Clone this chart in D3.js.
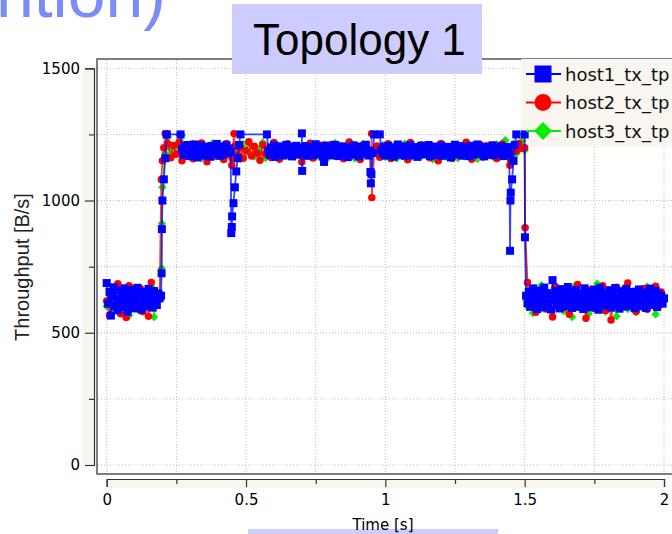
<!DOCTYPE html>
<html>
<head>
<meta charset="utf-8">
<script src="https://cdn.jsdelivr.net/npm/d3@7"></script>
<style>
  body { margin: 0; background: #fff; }
  svg { display: block; }
</style>
</head>
<body>
<script>
// =================== Data ======================
// host1 sampled every 5 ms, host2 / host3 every 10 ms (null = no sample)
const host1Step = 0.005;
const host1Values = [
  // 0 .. 0.195
  688,610,655,565,640,672,600,628,585,660,615,645,598,668,620,580,650,607,638,662,
  592,625,670,603,645,588,655,617,632,600,666,612,642,595,658,622,605,648,630,640,
  // 0.2 .. 0.265 ramp + flat top
  1000,1080,1160,1250,null,null,null,null,null,null,null,null,null,1250,
  // 0.27 .. 0.445
  1195,1172,1205,1180,1210,1168,1192,1200,1175,1212,1185,1163,1198,1178,1208,1190,1170,1203,1183,1196,
  1166,1206,1188,1176,1199,1214,1181,1169,1193,1204,1174,1187,1209,1179,1197,1184,
  // 0.45 .. 0.575 ramp + flat top
  940,990,1050,1110,1160,1210,1250,null,null,null,null,null,null,null,null,null,null,null,null,null,
  null,null,null,null,null,1250,
  // 0.58 .. 0.945
  1188,1172,1201,1180,1209,1165,1194,1183,1205,1176,1198,1170,1190,1211,1178,1186,1203,1167,1195,1181,
  1207,1174,1192,1185,1200,1199,1177,1206,1169,1189,1202,1180,1171,1196,1213,1184,1175,1191,1204,1166,
  1146,1193,1208,1179,1187,1171,1200,1183,1210,1173,1195,1168,1188,1205,1177,1197,1182,1164,1201,1186,
  1174,1209,1190,1179,1199,1167,1204,1185,1176,1193,1211,1181,1170,1188,
  // 0.95 .. 0.98
  1100,1180,1250,null,null,null,1250,
  // 0.985 .. 1.445
  1192,1178,1203,1170,1186,1207,1175,1196,1183,1166,1200,1189,1212,1173,1194,1180,1205,1169,1187,
  1198,1176,1209,1184,1171,1202,1190,1165,1195,1179,1206,1186,1174,1200,1182,1210,1168,1193,1177,1204,
  1187,1172,1199,1181,1208,1169,1192,1185,1175,1203,1190,1163,1197,1180,1211,1174,1194,1183,1206,1170,
  1189,1201,1177,1195,1168,1207,1184,1173,1198,1188,1212,1176,1192,1181,1203,1167,1196,1185,1174,1200,
  1182,1209,1171,1193,1186,1199,1175,1205,1188,1168,1197,1180,1202,1176,
  // 1.45 .. 1.5
  1030,1080,1150,1210,1250,null,null,null,null,null,1250,
  // 1.505 .. 2.0
  640,612,655,598,632,668,605,645,590,660,620,637,596,671,610,650,602,642,588,699,
  625,658,604,636,592,665,617,647,600,630,673,609,652,594,640,622,662,598,635,614,
  648,590,668,607,633,655,596,640,619,663,601,645,587,670,626,611,652,603,638,616,
  661,595,643,624,669,606,632,591,657,620,647,599,666,613,638,602,654,626,593,645,
  618,664,600,637,609,652,594,641,628,667,605,633,615,659,597,646,621,640,610,630
];
const host1Extra = [[0.197,725],[0.198,892],[0.447,877],[0.449,900],[0.7005,1254],[0.7015,1112],
  [0.9465,1108],[0.948,1065],[1.4475,810],[1.449,1000],[1.501,861]];

const host2Step = 0.01;
const host2Values = [
  620,565,660,598,685,572,640,558,678,610,632,595,668,580,650,562,690,605,625,648,
  1150,1253,
  1215,1162,1208,1175,1220,1150,1198,1183,1212,1158,1195,1170,1218,1186,1147,1204,1165,1210,1178,1193,
  1155,1216,1182,
  1160,1205,
  1172,1200,1160,1188,1222,1168,1205,1180,1152,1211,1176,1196,1163,1219,1185,1157,1202,1171,1214,1190,
  1166,1207,1182,1146,1199,1174,1217,1161,1192,1184,1209,1153,1196,1178,1213,1167,1190,1204,1158,1186,
  1221,1170,1197,1181,1155,1210,1175,1193,
  1190,
  1183,1206,1164,1198,1177,1215,1159,1192,1186,1208,1170,1201,1154,1219,1180,1195,1167,1211,1175,1189,
  1162,1204,1182,1150,1216,1173,1197,1185,1160,1209,1178,1193,1168,1220,1184,1156,1202,1176,1212,1165,
  1190,1207,1171,1198,1159,1183,1214,1174,1196,1152,1205,1187,1216,1197,
  1200,
  690,605,652,578,640,622,668,590,633,560,675,612,645,595,660,570,638,618,683,600,
  648,555,629,665,592,642,608,678,584,650,548,625,672,597,636,615,688,603,657,580,
  644,620,667,589,632,610,676,598,654,628
];
const host2Extra = [[0.196,1080],[0.205,1200],[0.2175,1253],[0.449,1133],[0.457,1253],
  [0.9505,1253],[0.9515,1011],[1.447,1133],[1.5015,897]];

const host3Step = 0.01;
const host3Values = [
  600,645,575,668,615,590,655,630,565,670,608,640,582,660,620,598,675,560,635,650,
  1050,1180,
  1240,1195,1170,1210,1250,1248,1185,1205,1165,1215,1178,1192,1160,1208,1188,1174,1217,1182,1199,1163,
  1211,1176,1194,
  1185,1170,1203,1158,1214,1190,1177,1206,1166,1198,1183,1219,1161,1195,1172,1209,1187,1155,1201,1179,
  1213,1168,1192,1184,1207,1162,1197,1175,1216,1189,1164,1204,1180,1211,1157,1193,1171,1218,1186,1200,
  1167,1209,1178,1195,1160,1206,1182,1214,1173,1191,
  1188,1190,1199,1172,1210,1165,1194,1181,1207,1159,1196,1176,1215,1185,1163,1202,1178,1211,1169,1190,
  1183,1205,1156,1198,1174,1213,1187,1166,1201,1180,1209,1161,1193,1177,1217,1184,1170,1204,1158,1196,
  1189,1208,1173,1199,1164,1212,1181,1195,1228,1205,1186,1215,1178,1201,1225,
  1190,
  598,662,575,640,615,680,590,652,628,565,670,605,645,582,658,620,560,676,610,638,
  593,665,572,648,624,685,600,655,580,640,618,668,562,634,605,672,590,650,615,578,
  660,628,595,674,608,642,570,656,620,636
];
const host3Extra = [[0.197,744],[0.198,913],[1.5015,900]];

const seriesNames = ["host1_tx_tp", "host2_tx_tp", "host3_tx_tp"];
const seriesColors = ["#0000ff", "#ff0000", "#00ee00"];
const yMajorTicks = [0, 500, 1000, 1500];
const yMinorTicks = [250, 750, 1250];
const xMajorTicks = [0, 0.5, 1, 1.5, 2];
const xMinorTicks = [0.25, 0.75, 1.25, 1.75];

function buildSeries(values, step, extra) {
  return values.map((v, i) => [i * step, v])
    .filter(d => d[1] !== null)
    .concat(extra)
    .sort((a, b) => a[0] - b[0]);
}
const host1 = buildSeries(host1Values, host1Step, host1Extra);
const host2 = buildSeries(host2Values, host2Step, host2Extra);
const host3 = buildSeries(host3Values, host3Step, host3Extra);

// =================== Chart ======================
const W = 672, H = 534;
const frame = {left: 97, top: 59, right: 700, bottom: 474};
const beige = "#f8f6ef";

const svg = d3.select("body").append("svg")
    .attr("width", W)
    .attr("height", H);

const x = d3.scaleLinear().domain([0, 2]).range([106.7, 664]);
const y = d3.scaleLinear().domain([0, 1500]).range([465, 68.3]);

// plot frame
svg.append("rect")
    .attr("x", frame.left).attr("y", frame.top)
    .attr("width", frame.right - frame.left).attr("height", frame.bottom - frame.top)
    .attr("fill", "#fff")
    .attr("stroke", "#555").attr("stroke-width", 1.5);

// dotted grid
const grid = svg.append("g")
    .attr("stroke", "#bdbdbd").attr("stroke-width", 1).attr("stroke-dasharray", "1,2");
grid.selectAll(".gy").data(yMajorTicks.concat(yMinorTicks)).join("line")
    .attr("x1", frame.left + 1).attr("x2", W)
    .attr("y1", d => y(d)).attr("y2", d => y(d));
grid.selectAll(".gx").data(xMajorTicks.concat(xMinorTicks)).join("line")
    .attr("y1", frame.top + 1).attr("y2", frame.bottom - 1)
    .attr("x1", d => x(d)).attr("x2", d => x(d));

// y axis strip + axis
svg.append("rect")
    .attr("x", 82).attr("y", y(1500))
    .attr("width", 12).attr("height", y(0) - y(1500))
    .attr("fill", beige);

svg.append("g")
    .attr("transform", "translate(94,0)")
    .call(d3.axisLeft(y).tickValues(yMajorTicks).tickSize(9).tickSizeOuter(9).tickPadding(5)
      .tickFormat(d => String(d)));
svg.append("g")
    .attr("transform", "translate(94,0)")
    .call(d3.axisLeft(y).tickValues(yMinorTicks).tickSize(5).tickFormat(""))
    .call(g => g.select(".domain").remove());

// x axis strip + axis
svg.append("rect")
    .attr("x", x(0)).attr("y", 479)
    .attr("width", x(2) - x(0)).attr("height", 9)
    .attr("fill", beige);

svg.append("g")
    .attr("transform", "translate(0,479)")
    .call(d3.axisBottom(x).tickValues(xMajorTicks).tickSize(8).tickSizeOuter(8).tickPadding(7)
      .tickFormat(d => String(d)));
svg.append("g")
    .attr("transform", "translate(0,479)")
    .call(d3.axisBottom(x).tickValues(xMinorTicks).tickSize(5).tickFormat(""))
    .call(g => g.select(".domain").remove());

svg.selectAll(".tick line, .domain").attr("stroke", "#333").attr("stroke-width", 1.2);
svg.selectAll(".tick text")
    .attr("fill", "#000")
    .style("font-family", "'DejaVu Sans', sans-serif")
    .style("font-size", "15px");

// y label
svg.append("text")
    .attr("transform", "translate(22,267) rotate(-90)")
    .attr("text-anchor", "middle")
    .attr("dominant-baseline", "central")
    .style("font-family", "'Liberation Sans', Arial, sans-serif")
    .style("font-size", "20px")
    .attr("fill", "#222")
    .text("Throughput [B/s]");

// legend background
svg.append("rect")
    .attr("x", 521).attr("y", frame.top)
    .attr("width", 160).attr("height", 88)
    .attr("fill", beige);

// series (host3 at the back, host1 on top)
svg.append("clipPath").attr("id", "plotClip")
  .append("rect")
    .attr("x", frame.left + 1).attr("y", frame.top + 1)
    .attr("width", W - frame.left).attr("height", frame.bottom - frame.top - 2);

const line = d3.line().x(d => x(d[0])).y(d => y(d[1]));
const markers = [
  {data: host3, color: seriesColors[2], sym: d3.symbol(d3.symbolSquare, 36)(), rot: 45},
  {data: host2, color: seriesColors[1], sym: d3.symbol(d3.symbolCircle, 44)(), rot: 0},
  {data: host1, color: seriesColors[0], sym: d3.symbol(d3.symbolSquare, 64)(), rot: 0}
];
const dataLayer = svg.append("g").attr("clip-path", "url(#plotClip)");
markers.forEach(s => {
  const g = dataLayer.append("g");
  g.append("path")
      .datum(s.data)
      .attr("d", line)
      .attr("fill", "none")
      .attr("stroke", s.color)
      .attr("stroke-opacity", 0.75)
      .attr("stroke-width", 1.8);
  g.selectAll("path.m").data(s.data).join("path")
      .attr("class", "m")
      .attr("d", s.sym)
      .attr("fill", s.color)
      .attr("transform", d => `translate(${x(d[0])},${y(d[1])}) rotate(${s.rot})`);
});

// legend items
const legendRows = [74, 102.5, 131];
const legendSyms = [
  {sym: d3.symbol(d3.symbolSquare, 289)(), rot: 0},
  {sym: d3.symbol(d3.symbolCircle, 227)(), rot: 0},
  {sym: d3.symbol(d3.symbolSquare, 160)(), rot: 45}
];
seriesNames.forEach((name, i) => {
  const g = svg.append("g").attr("transform", `translate(0,${legendRows[i]})`);
  g.append("line")
      .attr("x1", 526).attr("x2", 561)
      .attr("stroke", seriesColors[i]).attr("stroke-width", 2);
  g.append("path")
      .attr("d", legendSyms[i].sym)
      .attr("fill", seriesColors[i])
      .attr("transform", `translate(543,0) rotate(${legendSyms[i].rot})`);
  g.append("text")
      .attr("x", 565)
      .attr("dominant-baseline", "central")
      .style("font-family", "'DejaVu Sans', sans-serif")
      .style("font-size", "18px")
      .attr("fill", "#111")
      .text(name);
});

// slide decorations: title box, cut-off heading, bottom box
svg.append("rect")
    .attr("x", 232).attr("y", 4)
    .attr("width", 250).attr("height", 70)
    .attr("fill", "#ccccff");
svg.append("text")
    .attr("x", 253).attr("y", 55)
    .style("font-family", "'Liberation Sans', Arial, sans-serif")
    .style("font-size", "44px")
    .attr("fill", "#000")
    .text("Topology 1");

svg.append("text")
    .attr("x", 166).attr("y", 17)
    .attr("text-anchor", "end")
    .style("font-family", "'Liberation Sans', Arial, sans-serif")
    .style("font-size", "68px")
    .attr("fill", "#7b8cf6")
    .text("Contention)");

svg.append("rect")
    .attr("x", 248).attr("y", 529)
    .attr("width", 250).attr("height", 10)
    .attr("fill", "#ccccff");
svg.append("text")
    .attr("x", 383).attr("y", 530)
    .attr("text-anchor", "middle")
    .style("font-family", "'DejaVu Sans', sans-serif")
    .style("font-size", "15px")
    .attr("fill", "#000")
    .text("Time [s]");
</script>
</body>
</html>
